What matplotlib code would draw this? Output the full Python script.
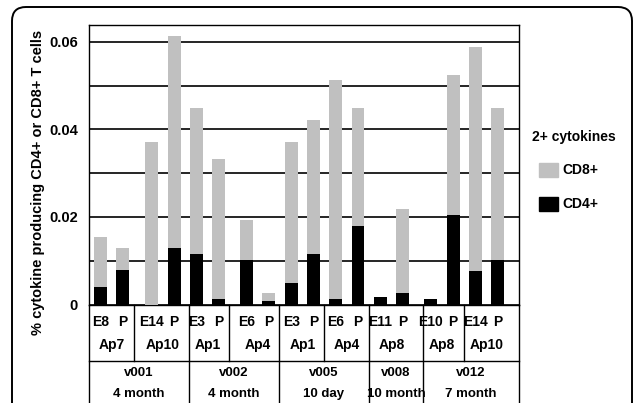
import numpy as np
import matplotlib.pyplot as plt
from matplotlib.patches import FancyBboxPatch, Rectangle
from matplotlib.transforms import IdentityTransform, blended_transform_factory

plt.rcParams["font.family"] = ["Liberation Sans", "DejaVu Sans"]
plt.rcParams["font.weight"] = "bold"

# one pair of bars per epitope: epitope, then peptide pool (P)
epitopes = ["E8", "E14", "E3", "E6", "E3", "E6", "E11", "E10", "E14"]
pools = ["Ap7", "Ap10", "Ap1", "Ap4", "Ap1", "Ap4", "Ap8", "Ap8", "Ap10"]
volunteers = ["v001", "v002", "v005", "v008", "v012"]
timepoints = ["4 month", "4 month", "10 day", "10 month", "7 month"]
pairs_per_volunteer = [2, 2, 2, 1, 2]

cd8 = [0.0154, 0.0128, 0.0371, 0.0614, 0.0448, 0.0333, 0.0192, 0.0026, 0.0371,
       0.0422, 0.0512, 0.0448, 0.0, 0.0218, 0.0, 0.0525, 0.0589, 0.0448]
cd4 = [0.0039, 0.0078, 0.0, 0.0128, 0.0115, 0.0013, 0.0102, 0.0009, 0.0048,
       0.0115, 0.0013, 0.0179, 0.0016, 0.0026, 0.0013, 0.0204, 0.0077, 0.0102]

W, H = 634, 403
fig = plt.figure(figsize=(W / 100, H / 100), dpi=100)
ax = fig.add_axes([89 / W, 1 - 304.5 / H, 430 / W, 279.2 / H])


def fy(py):
    return 1 - py / H


# bar positions: pairs two slots wide, with a few extra gaps
gap_after_pair = [0.3, 0, 0.25, 0, 0, 0, 0.27, 0, 0]
pair_start = 2 * np.arange(len(epitopes)) + np.concatenate([[0], np.cumsum(gap_after_pair[:-1])])
x = np.ravel(np.column_stack([pair_start, pair_start + 1]))

ax.bar(x, cd8, width=0.58, color="#c0c0c0", zorder=3)
ax.bar(x, cd4, width=0.58, color="black", zorder=4)

ax.set_xlim(-0.516, 18.77)
ax.set_ylim(0, 0.0638)
ax.set_xticks([])
ax.set_yticks([0, 0.02, 0.04, 0.06])
ax.set_yticklabels(["0", "0.02", "0.04", "0.06"], fontsize=10.5, fontweight="bold")
ax.set_yticks(np.arange(0.01, 0.061, 0.01), minor=True)
ax.tick_params(axis="y", which="both", length=0, pad=8)
ax.grid(True, axis="y", which="both", color="black", linewidth=1.2, zorder=1)
for sp in ax.spines.values():
    sp.set_linewidth(1.0)

fig.text(38 / W, fy(182.5), "% cytokine producing CD4+ or CD8+ T cells",
         rotation=90, ha="center", va="center", fontsize=10.5, fontweight="bold")

# table under the axis; cell walls sit a little off the bar midpoints
tr = blended_transform_factory(ax.transData, fig.transFigure)
left, right = ax.get_xlim()
table_bounds = [1.50, 3.98, 5.76, 8.0, 10.01, 12.03, 14.48, 16.29]
line_kw = dict(color="black", linewidth=1.0, transform=tr, clip_on=False)
ax.plot([left, right], [fy(361), fy(361)], **line_kw)
ax.plot([left, left], [fy(304.5), 0], **line_kw)
ax.plot([right, right], [fy(304.5), 0], **line_kw)

group_end = np.cumsum(pairs_per_volunteer)
for i, b in enumerate(table_bounds):
    bottom = 0 if (i + 1) in group_end else fy(361)
    ax.plot([b, b], [fy(304.5), bottom], **line_kw)

txt_kw = dict(transform=tr, ha="center", va="center", fontweight="bold", clip_on=False)
for i, (ep, pool) in enumerate(zip(epitopes, pools)):
    ax.text(pair_start[i], fy(322), ep, fontsize=10, **txt_kw)
    ax.text(pair_start[i] + 1, fy(322), "P", fontsize=10, **txt_kw)
    ax.text(pair_start[i] + 0.5, fy(345), pool, fontsize=10, **txt_kw)

edges = np.concatenate([[left], np.array(table_bounds)[group_end[:-1] - 1], [right]])
for j, (vol, tp) in enumerate(zip(volunteers, timepoints)):
    cx = (edges[j] + edges[j + 1]) / 2
    ax.text(cx, fy(373), vol, fontsize=9.5, **txt_kw)
    ax.text(cx, fy(394), tp, fontsize=9.5, **txt_kw)

# legend
fig.text(532 / W, fy(136.7), "2+ cytokines", fontsize=10, fontweight="bold",
         ha="left", va="center")
fig.patches.append(Rectangle((539 / W, fy(177)), 19 / W, 14 / H,
                             color="#c0c0c0", transform=fig.transFigure))
fig.text(562 / W, fy(170), "CD8+", fontsize=10, fontweight="bold", ha="left", va="center")
fig.patches.append(Rectangle((539 / W, fy(211)), 19 / W, 14 / H,
                             color="black", transform=fig.transFigure))
fig.text(562 / W, fy(204), "CD4+", fontsize=10, fontweight="bold", ha="left", va="center")

# rounded frame round the whole panel
fig.patches.append(FancyBboxPatch((12, -60), 620, H - 7 + 60,
                                  boxstyle="round,pad=0,rounding_size=14",
                                  transform=IdentityTransform(), facecolor="none",
                                  edgecolor="black", linewidth=1.4))

fig.savefig("out.png", dpi=100)
